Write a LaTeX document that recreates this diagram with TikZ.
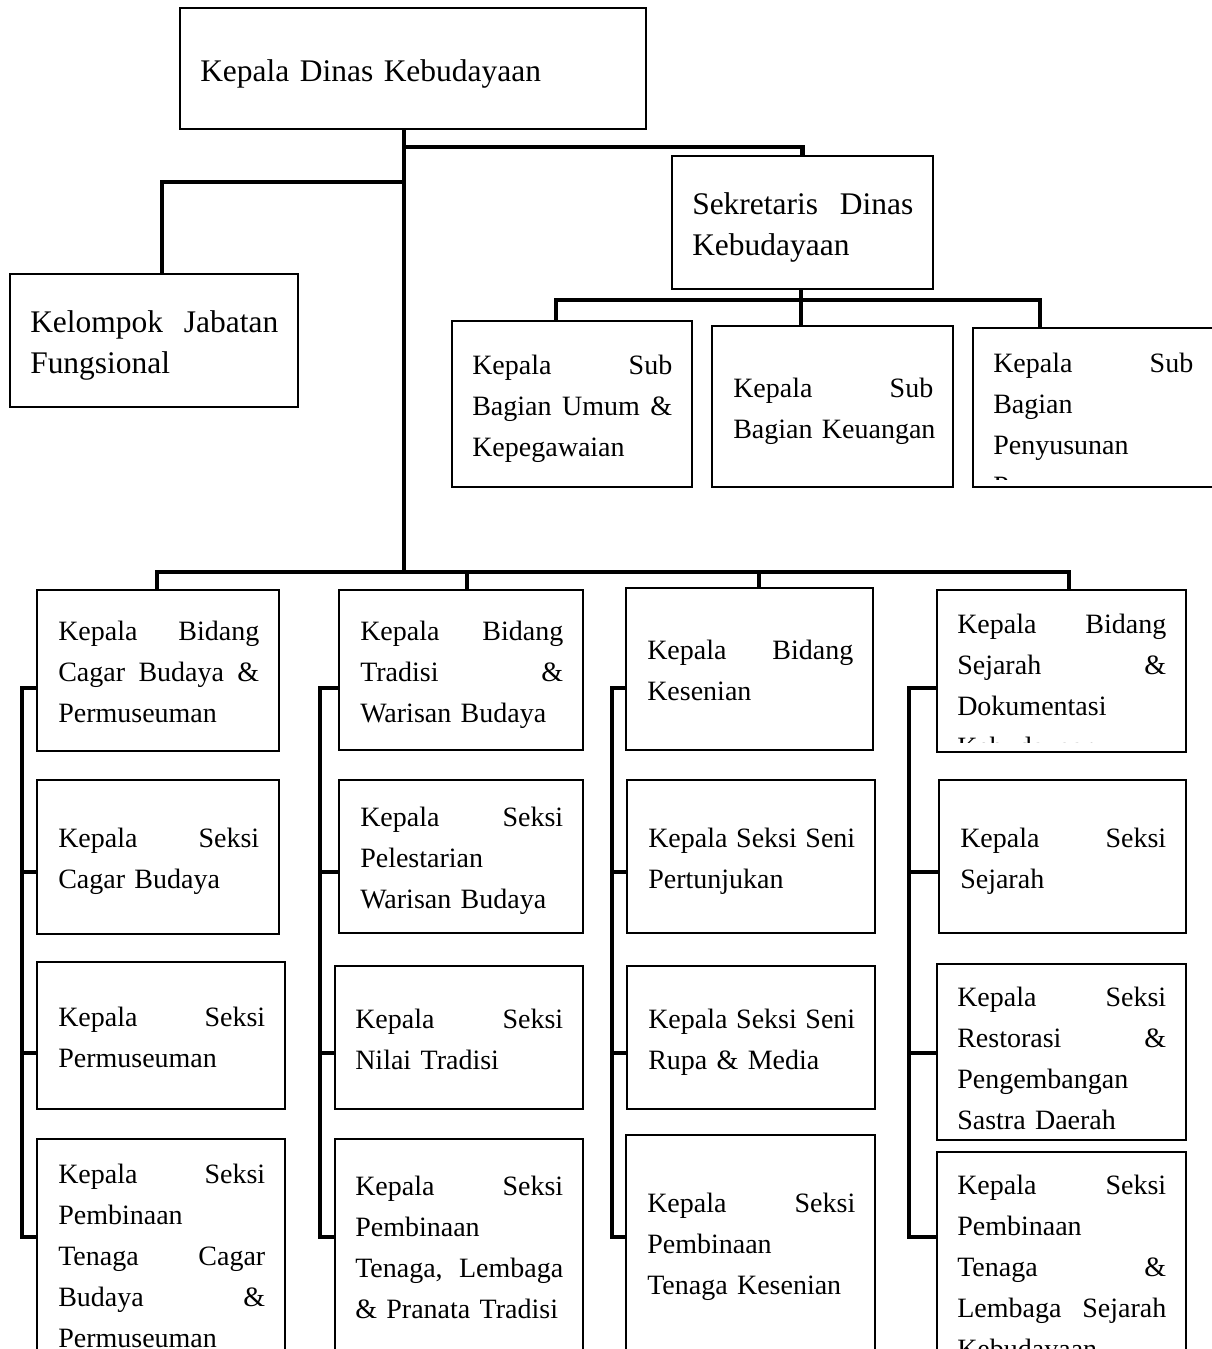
\documentclass[tikz,border=0pt]{standalone}
\usepackage{fontspec}
\setmainfont{Liberation Serif}
\usetikzlibrary{fit}
\newlength\curw
\newcommand\jl[1]{\noindent\hbox to\curw{\rule[-8.75pt]{0pt}{30.75pt}#1}\par}
\newcommand\pl[1]{\noindent\hbox{\rule[-8.75pt]{0pt}{30.75pt}#1}\par}
\newcommand\tx[6]{\node[txt,#1,text width=#5pt] (#2) at (#3,{#4-29.333}) {\global\curw=#5pt\relax #6};}
\begin{document}
\begin{tikzpicture}[x=0.75pt,y=-0.75pt,
  box/.style={draw=black, line width=1.1pt, inner sep=0pt},
  conn/.style={draw=black, line width=3.2pt},
  txt/.style={inner sep=0pt, anchor=north west},
  small/.style={font=\fontsize{21}{30.75}\selectfont},
  big/.style={font=\fontsize{23.6}{30.75}\selectfont}]
\clip (0,0) rectangle (1212,1349);
\fill[white] (0,0) rectangle (1212,1349);
% boxes
\node[box, fit={(180,8) (646,129)}] (A) {};
\node[box, fit={(672,156) (933,289)}] (S) {};
\node[box, fit={(10,274) (298,407)}] (K) {};
\node[box, fit={(452,321) (692,487)}] (U) {};
\node[box, fit={(712,326) (953,487)}] (Q) {};
\node[box, fit={(973,328) (1230,487)}] (P) {};
\node[box, fit={(37,590) (279,751)}] (c1a) {};
\node[box, fit={(37,780) (279,934)}] (c1b) {};
\node[box, fit={(37,962) (285,1109)}] (c1c) {};
\node[box, fit={(37,1139) (285,1370)}] (c1d) {};
\node[box, fit={(339,590) (583,750)}] (c2a) {};
\node[box, fit={(339,780) (583,933)}] (c2b) {};
\node[box, fit={(335,966) (583,1109)}] (c2c) {};
\node[box, fit={(335,1139) (583,1370)}] (c2d) {};
\node[box, fit={(626,588) (873,750)}] (c3a) {};
\node[box, fit={(627,780) (875,933)}] (c3b) {};
\node[box, fit={(627,966) (875,1109)}] (c3c) {};
\node[box, fit={(626,1135) (875,1370)}] (c3d) {};
\node[box, fit={(937,590) (1186,752)}] (c4a) {};
\node[box, fit={(939,780) (1186,933)}] (c4b) {};
\node[box, fit={(937,964) (1186,1140)}] (c4c) {};
\node[box, fit={(937,1152) (1186,1370)}] (c4d) {};
% texts
\tx{big}{tA}{200}{81}{330}{\pl{Kepala Dinas Kebudayaan}}
\tx{big}{tS}{692}{214}{165.75}{\jl{Sekretaris\hfill Dinas}\pl{Kebudayaan}}
\tx{big}{tK}{30}{332}{186}{\jl{Kelompok\hfill Jabatan}\pl{Fungsional}}
\tx{small}{tU}{472}{374}{150}{\jl{Kepala\hfill Sub}\jl{Bagian\hfill Umum\hfill \&}\pl{Kepegawaian}}
\tx{small}{tQ}{733}{397}{150}{\jl{Kepala\hfill Sub}\pl{Bagian Keuangan}}
\begin{scope}
\clip (963,330) rectangle (1212,479);
\tx{small}{tP}{993}{372}{150}{\jl{Kepala\hfill Sub}\pl{Bagian}\pl{Penyusunan}\pl{Program}}
\end{scope}
\tx{small}{t1a}{58}{640}{150.75}{\jl{Kepala\hfill Bidang}\jl{Cagar\hfill Budaya\hfill \&}\pl{Permuseuman}}
\tx{small}{t1b}{58}{847}{150.75}{\jl{Kepala\hfill Seksi}\pl{Cagar Budaya}}
\tx{small}{t1c}{58}{1026}{155.25}{\jl{Kepala\hfill Seksi}\pl{Permuseuman}}
\tx{small}{t1d}{58}{1183}{155.25}{\jl{Kepala\hfill Seksi}\pl{Pembinaan}\jl{Tenaga\hfill Cagar}\jl{Budaya\hfill \&}\pl{Permuseuman}}
\tx{small}{t2a}{360}{640}{152.25}{\jl{Kepala\hfill Bidang}\jl{Tradisi\hfill \&}\pl{Warisan Budaya}}
\tx{small}{t2b}{360}{826}{152.25}{\jl{Kepala\hfill Seksi}\pl{Pelestarian}\pl{Warisan Budaya}}
\tx{small}{t2c}{355}{1028}{156}{\jl{Kepala\hfill Seksi}\pl{Nilai Tradisi}}
\tx{small}{t2d}{355}{1195}{156}{\jl{Kepala\hfill Seksi}\pl{Pembinaan}\jl{Tenaga,\hfill Lembaga}\pl{\& Pranata Tradisi}}
\tx{small}{t3a}{647}{659}{154.5}{\jl{Kepala\hfill Bidang}\pl{Kesenian}}
\tx{small}{t3b}{648}{847}{155.25}{\jl{Kepala\hfill Seksi\hfill Seni}\pl{Pertunjukan}}
\tx{small}{t3c}{648}{1028}{155.25}{\jl{Kepala\hfill Seksi\hfill Seni}\pl{Rupa \& Media}}
\tx{small}{t3d}{647}{1212}{156}{\jl{Kepala\hfill Seksi}\pl{Pembinaan}\pl{Tenaga Kesenian}}
\begin{scope}
\clip (940,592) rectangle (1184,742);
\tx{small}{t4a}{957}{633}{156.75}{\jl{Kepala\hfill Bidang}\jl{Sejarah\hfill \&}\pl{Dokumentasi}\pl{Kebudayaan}}
\end{scope}
\tx{small}{t4b}{960}{847}{154.5}{\jl{Kepala\hfill Seksi}\pl{Sejarah}}
\tx{small}{t4c}{957}{1006}{156.75}{\jl{Kepala\hfill Seksi}\jl{Restorasi\hfill \&}\pl{Pengembangan}\pl{Sastra Daerah}}
\tx{small}{t4d}{957}{1194}{156.75}{\jl{Kepala\hfill Seksi}\pl{Pembinaan}\jl{Tenaga\hfill \&}\jl{Lembaga\hfill Sejarah}\pl{Kebudayaan}}
% connectors
\coordinate (tr) at (404,572);
\coordinate (sj) at (404,147);
\coordinate (kj) at (404,182);
\coordinate (kx) at (162,182);
\draw[conn] (A.south -| tr) -- (tr);
\draw[conn] (sj) -| (S.north);
\draw[conn] (kj) -- (kx) -- (kx |- K.north);
\coordinate (sb1) at (556,300);
\coordinate (sb2) at (801,300);
\coordinate (sb3) at (1040,300);
\draw[conn] (S.south -| sb2) -- (sb2 |- Q.north);
\draw[conn] (sb1 |- U.north) -- (sb1) -- (sb3) -- (sb3 |- P.north);
\coordinate (b1) at (157,572);
\coordinate (b2) at (467,572);
\coordinate (b3) at (759,572);
\coordinate (b4) at (1069,572);
\draw[conn] (b1 |- c1a.north) -- (b1) -- (b4) -- (b4 |- c4a.north);
\draw[conn] (b2) -- (b2 |- c2a.north);
\draw[conn] (b3) -- (b3 |- c3a.north);
\foreach \cc/\xx in {1/22,2/320,3/612,4/909}{
  \coordinate (k\cc t) at (\xx,688);
  \coordinate (k\cc m) at (\xx,872);
  \coordinate (k\cc n) at (\xx,1053);
  \coordinate (k\cc b) at (\xx,1237);
  \draw[conn] (k\cc t -| c\cc a.west) -- (k\cc t) -- (k\cc b) -- (k\cc b -| c\cc d.west);
  \draw[conn] (k\cc m) -- (k\cc m -| c\cc b.west);
  \draw[conn] (k\cc n) -- (k\cc n -| c\cc c.west);
}
\end{tikzpicture}
\end{document}
